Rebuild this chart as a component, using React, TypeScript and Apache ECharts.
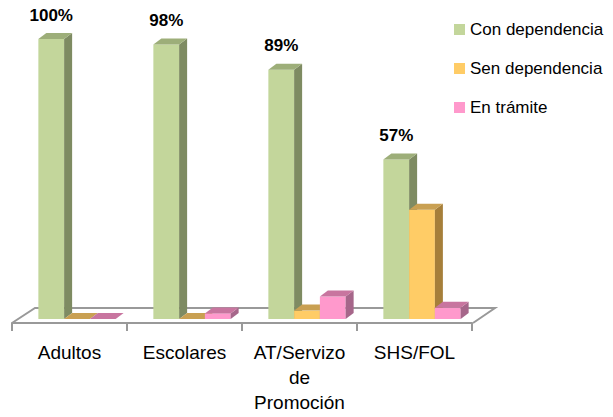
import React, { useEffect, useRef } from "react";
import * as echarts from "echarts";

const categories = ["Adultos", "Escolares", "AT/Servizo\nde\nPromoción", "SHS/FOL"];
const conDependencia = [100, 98, 89, 57];
const senDependencia = [0, 0, 3, 39];
const enTramite = [0, 2, 8, 4];
const seriesNames = ["Con dependencia", "Sen dependencia", "En trámite"];
const seriesValues = [conDependencia, senDependencia, enTramite];
const palette = [
  { front: "#C3D69B", side: "#7E8B62", top: "#9DAE79" },
  { front: "#FFCC66", side: "#A67F3A", top: "#C9A052" },
  { front: "#FF99CC", side: "#A6668A", top: "#C8759F" },
];

const FONT = '"Liberation Sans", Arial, sans-serif';

export default function App() {
  const ref = useRef<HTMLDivElement>(null);
  useEffect(() => {
    if (!ref.current) return;
    const chart = echarts.init(ref.current, null, { renderer: "svg" });
    const dx = 8;
    const dy = 6;
    const series = seriesValues.map((vals, idx) => ({
      name: seriesNames[idx],
      type: "custom",
      xAxisIndex: 0,
      yAxisIndex: 0,
      z: 5,
      itemStyle: { color: palette[idx].front },
      encode: { x: 0, y: 1 },
      data: vals.map((v, i) => [i, v]),
      renderItem: (params: any, api: any) => {
        const cat = api.value(0);
        const val = api.value(1);
        const base = api.coord([cat, 0]);
        const topPt = api.coord([cat, val]);
        const band = api.size([1, 0])[0];
        const bw = band * 0.224;
        const x0 = base[0] - 1.5 * bw + idx * bw;
        const x1 = x0 + bw;
        const yb = base[1];
        const yt = topPt[1];
        const c = palette[idx];
        const children: any[] = [];
        if (yb - yt > 0.5) {
          children.push({
            type: "rect",
            shape: { x: x0, y: yt, width: bw, height: yb - yt },
            style: { fill: c.front },
          });
          children.push({
            type: "polygon",
            shape: { points: [[x1, yb], [x1, yt], [x1 + dx, yt - dy], [x1 + dx, yb - dy]] },
            style: { fill: c.side },
          });
        }
        children.push({
          type: "polygon",
          shape: { points: [[x0, yt], [x1, yt], [x1 + dx, yt - dy], [x0 + dx, yt - dy]] },
          style: { fill: c.top },
        });
        if (idx === 0) {
          children.push({
            type: "text",
            style: {
              text: val + "%",
              x: (x0 + x1) / 2,
              y: yt - 24,
              align: "center",
              verticalAlign: "middle",
              fontFamily: FONT,
              fontWeight: "bold",
              fontSize: 17,
              fill: "#000",
            },
          });
        }
        return { type: "group", children };
      },
    }));

    chart.setOption({
      animation: false,
      backgroundColor: "#fff",
      grid: [
        { left: 19.5, right: 133.5, top: 39, bottom: 98 },
        { left: 12, right: 141, top: 39, bottom: 94 },
      ],
      xAxis: [
        { type: "category", gridIndex: 0, data: categories, show: false },
        {
          type: "category",
          gridIndex: 1,
          data: categories,
          axisLine: { show: true, lineStyle: { color: "#999", width: 2 } },
          axisTick: { show: true, length: 8, lineStyle: { color: "#999", width: 2 } },
          axisLabel: {
            color: "#000",
            fontFamily: FONT,
            fontSize: 19,
            lineHeight: 25,
            margin: 17,
            interval: 0,
          },
        },
      ],
      yAxis: [
        { type: "value", gridIndex: 0, min: 0, max: 100, show: false },
        { type: "value", gridIndex: 1, min: 0, max: 100, show: false },
      ],
      legend: {
        orient: "vertical",
        left: 449,
        top: 16,
        icon: "rect",
        itemWidth: 11,
        itemHeight: 11,
        itemGap: 22,
        data: seriesNames,
        textStyle: { color: "#000", fontFamily: FONT, fontSize: 17, lineHeight: 17 },
      },
      graphic: [
        {
          type: "polyline",
          z: 0,
          shape: { points: [[12, 323], [35, 308], [495, 308], [473, 323]] },
          style: { stroke: "#999", lineWidth: 2, fill: null },
        },
      ],
      series,
    });
    return () => chart.dispose();
  }, []);
  return (
    <div
      ref={ref}
      style={{ position: "fixed", left: 0, top: 0, width: 613, height: 417 }}
    />
  );
}
